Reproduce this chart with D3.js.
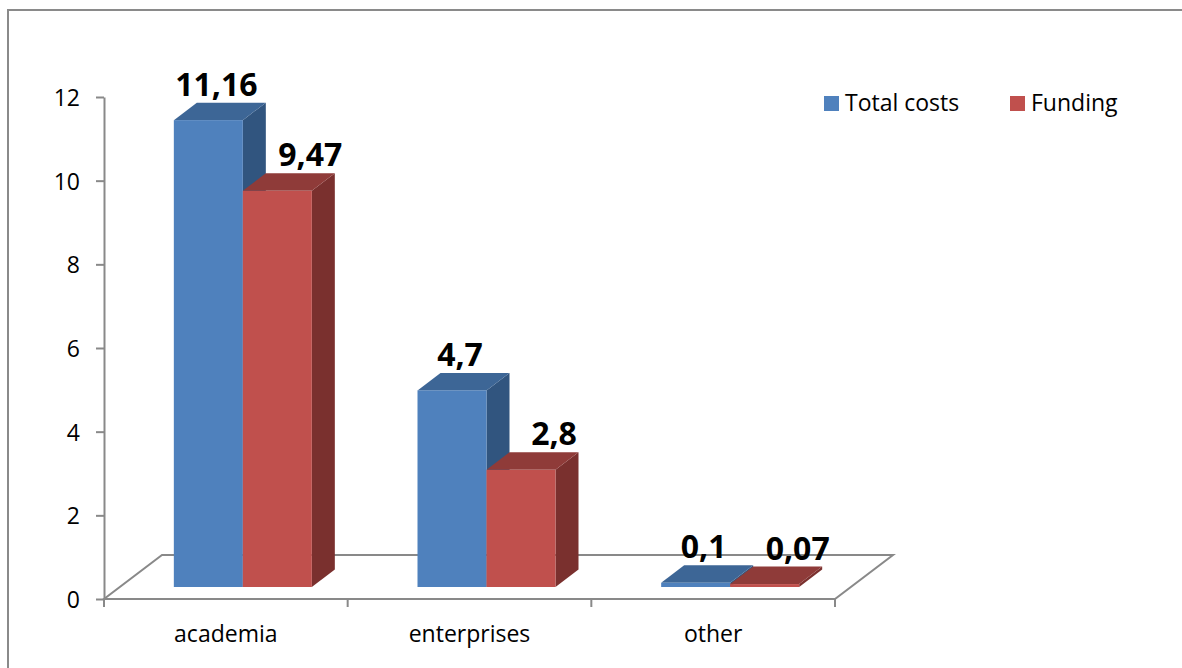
<!DOCTYPE html>
<html><head><meta charset="utf-8">
<script src="https://cdn.jsdelivr.net/npm/d3@7"></script>
<style>html,body{margin:0;padding:0;background:#fff;}svg{display:block;}</style>
</head><body>
<script>
const categories = ["academia", "enterprises", "other"];
const seriesNames = ["Total costs", "Funding"];
const totalCosts = [11.16, 4.7, 0.1];
const funding = [9.47, 2.8, 0.07];
const yTicks = [0, 2, 4, 6, 8, 10, 12];

const W = 1182, H = 668;
const svg = d3.select("body").append("svg").attr("width", W).attr("height", H);
const font = "'Open Sans', 'Noto Sans', sans-serif";

// border
svg.append("rect").attr("x", 8).attr("y", 10).attr("width", 1300).attr("height", 800)
  .attr("fill", "#fff").attr("stroke", "#8a8a8a").attr("stroke-width", 2);

const x = d3.scaleBand().domain(categories).range([104, 835]);
const y = d3.scaleLinear().domain([0, 12]).range([599, 97]);
const inner = d3.scaleBand().domain(seriesNames).range([0, 138]);

const floorDx = 58, floorDy = -44;     // floor depth
const barDx = 17, barDy = -12;         // bar front plane offset
const bDx = 23, bDy = -17.5;           // bar depth

const series = [
  {name: seriesNames[0], values: totalCosts, front: "#4F81BD", top: "#3D6696", side: "#31557F", lx: 8},
  {name: seriesNames[1], values: funding, front: "#C0504D", top: "#8F3B39", side: "#7A302E", lx: 33}
];

// floor
const [x0, x1] = x.range();
const y0 = y(0);
svg.append("polygon")
  .attr("points", [[x0, y0], [x1, y0], [x1 + floorDx, y0 + floorDy], [x0 + floorDx, y0 + floorDy]].map(p => p.join(",")).join(" "))
  .attr("fill", "#fff").attr("stroke", "#898989").attr("stroke-width", 2).attr("stroke-linejoin", "miter");

// y axis
const yAxis = svg.append("g").attr("transform", `translate(${x0},0)`)
  .call(d3.axisLeft(y).tickValues(yTicks).tickSize(8).tickSizeOuter(0).tickPadding(16));
yAxis.select(".domain").attr("stroke", "#898989").attr("stroke-width", 2);
yAxis.selectAll(".tick line").attr("stroke", "#898989").attr("stroke-width", 2);
yAxis.selectAll(".tick text").attr("font-family", font).attr("font-size", 23).attr("fill", "#000").attr("dy", "0.37em");

// x axis: boundary ticks
const bounds = categories.map(c => x(c)).concat([x1]);
svg.append("g").selectAll("line").data(bounds).join("line")
  .attr("x1", d => d).attr("x2", d => d).attr("y1", y0).attr("y2", y0 + 8)
  .attr("stroke", "#898989").attr("stroke-width", 2);
svg.append("g").selectAll("text").data(categories).join("text")
  .attr("x", d => x(d) + x.bandwidth() / 2).attr("y", 642)
  .attr("text-anchor", "middle").attr("font-family", font).attr("font-size", 23).attr("fill", "#000")
  .text(d => d);

// bars
const bw = inner.bandwidth();
series.forEach(s => {
  const g = svg.append("g");
  categories.forEach((c, i) => {
    const v = s.values[i];
    const left = x(c) + x.bandwidth() / 2 - 69 + inner(s.name) + barDx;
    const right = left + bw;
    const bot = y(0) + barDy;
    const top = y(v) + barDy;
    g.append("polygon").attr("points", [[right, bot], [right + bDx, bot + bDy], [right + bDx, top + bDy], [right, top]].map(p => p.join(",")).join(" "))
      .attr("fill", s.side);
    g.append("polygon").attr("points", [[left, top], [right, top], [right + bDx, top + bDy], [left + bDx, top + bDy]].map(p => p.join(",")).join(" "))
      .attr("fill", s.top);
    g.append("rect").attr("x", left).attr("y", top).attr("width", bw).attr("height", bot - top).attr("fill", s.front);
  });
});

// data labels
series.forEach(s => {
  categories.forEach((c, i) => {
    const v = s.values[i];
    const left = x(c) + x.bandwidth() / 2 - 69 + inner(s.name) + barDx;
    const top = y(v) + barDy + bDy;
    svg.append("text").attr("x", left + bw / 2 + s.lx).attr("y", top - 7)
      .attr("text-anchor", "middle").attr("font-family", font).attr("font-weight", "bold")
      .attr("font-size", 32).attr("fill", "#000")
      .text(String(v).replace(".", ","));
  });
});

// legend
const legendX = [824, 1010];
series.forEach((s, i) => {
  svg.append("rect").attr("x", legendX[i]).attr("y", 96).attr("width", 15).attr("height", 15).attr("fill", s.front);
  svg.append("text").attr("x", legendX[i] + 21).attr("y", 111)
    .attr("font-family", font).attr("font-size", 23).attr("fill", "#000").text(s.name);
});
</script>
</body></html>
